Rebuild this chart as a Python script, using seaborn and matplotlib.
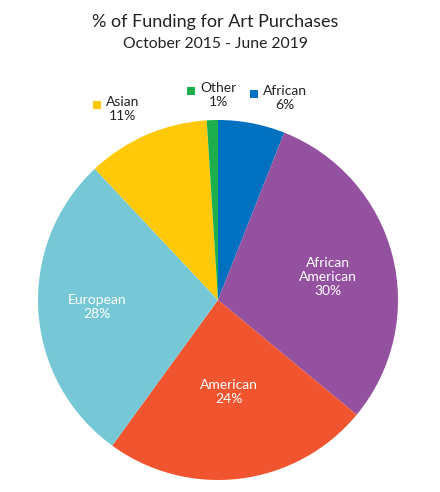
import numpy as np
import matplotlib
matplotlib.use("Agg")
import matplotlib.pyplot as plt
import seaborn as sns

sns.set_theme(style="white")
plt.rcParams["font.family"] = ["Lato", "DejaVu Sans"]

# --- Data ---
categories = ["African", "African American", "American", "European", "Asian", "Other"]
shares = [6, 30, 24, 28, 11, 1]
label_lines = ["African", "African\nAmerican", "American", "European", "Asian", "Other"]

# --- Style ---
colors = ["#0070C0", "#9451A0", "#F0552F", "#76C8D6", "#FFC90A", "#1DAF4E"]
inside = [False, True, True, True, False, False]
# label centres in pie-radius units
label_pos = [(0.37, 1.12), (0.61, 0.13), (0.06, -0.51), (-0.67, -0.04), (-0.53, 1.06), (0.0, 1.14)]
LABEL_SIZE = 10

fig = plt.figure(figsize=(4.4, 4.92), dpi=100)
ax = fig.add_axes([38 / 440, 12 / 492, 360 / 440, 360 / 492])

wedges, _ = ax.pie(shares, colors=colors, startangle=90, counterclock=False,
                   wedgeprops=dict(linewidth=0))
ax.set_xlim(-1, 1)
ax.set_ylim(-1, 1)
ax.set_aspect("equal")
ax.axis("off")

outside_texts = []
for name, val, col, ins, (x, y) in zip(label_lines, shares, colors, inside, label_pos):
    txt = f"{name}\n{val}%"
    t = ax.text(x, y, txt, ha="center", va="center", fontsize=LABEL_SIZE,
                color="white" if ins else "#222222", linespacing=1.2,
                multialignment="center")
    if not ins:
        outside_texts.append((t, name, col))

# legend-key squares left of the outside labels
fig.canvas.draw()
renderer = fig.canvas.get_renderer()
for t, name, col in outside_texts:
    probe = ax.text(0, 0, name, fontsize=LABEL_SIZE)
    w = probe.get_window_extent(renderer).width
    probe.remove()
    bb = t.get_window_extent(renderer)
    cx = (bb.x0 + bb.x1) / 2
    sq_x = cx - w / 2 - 9
    sq_y = bb.y1 - 9
    xd, yd = ax.transData.inverted().transform((sq_x, sq_y))
    ax.scatter([xd], [yd], marker="s", s=30, color=col, clip_on=False, linewidths=0)

fig.text(215 / 440, 1 - 22 / 492, "% of Funding for Art Purchases", ha="center", va="center",
         fontsize=13, color="#222222")
fig.text(215 / 440, 1 - 44 / 492, "October 2015 - June 2019", ha="center", va="center",
         fontsize=11.3, color="#222222")

fig.savefig("out.png", dpi=100, facecolor="white")
